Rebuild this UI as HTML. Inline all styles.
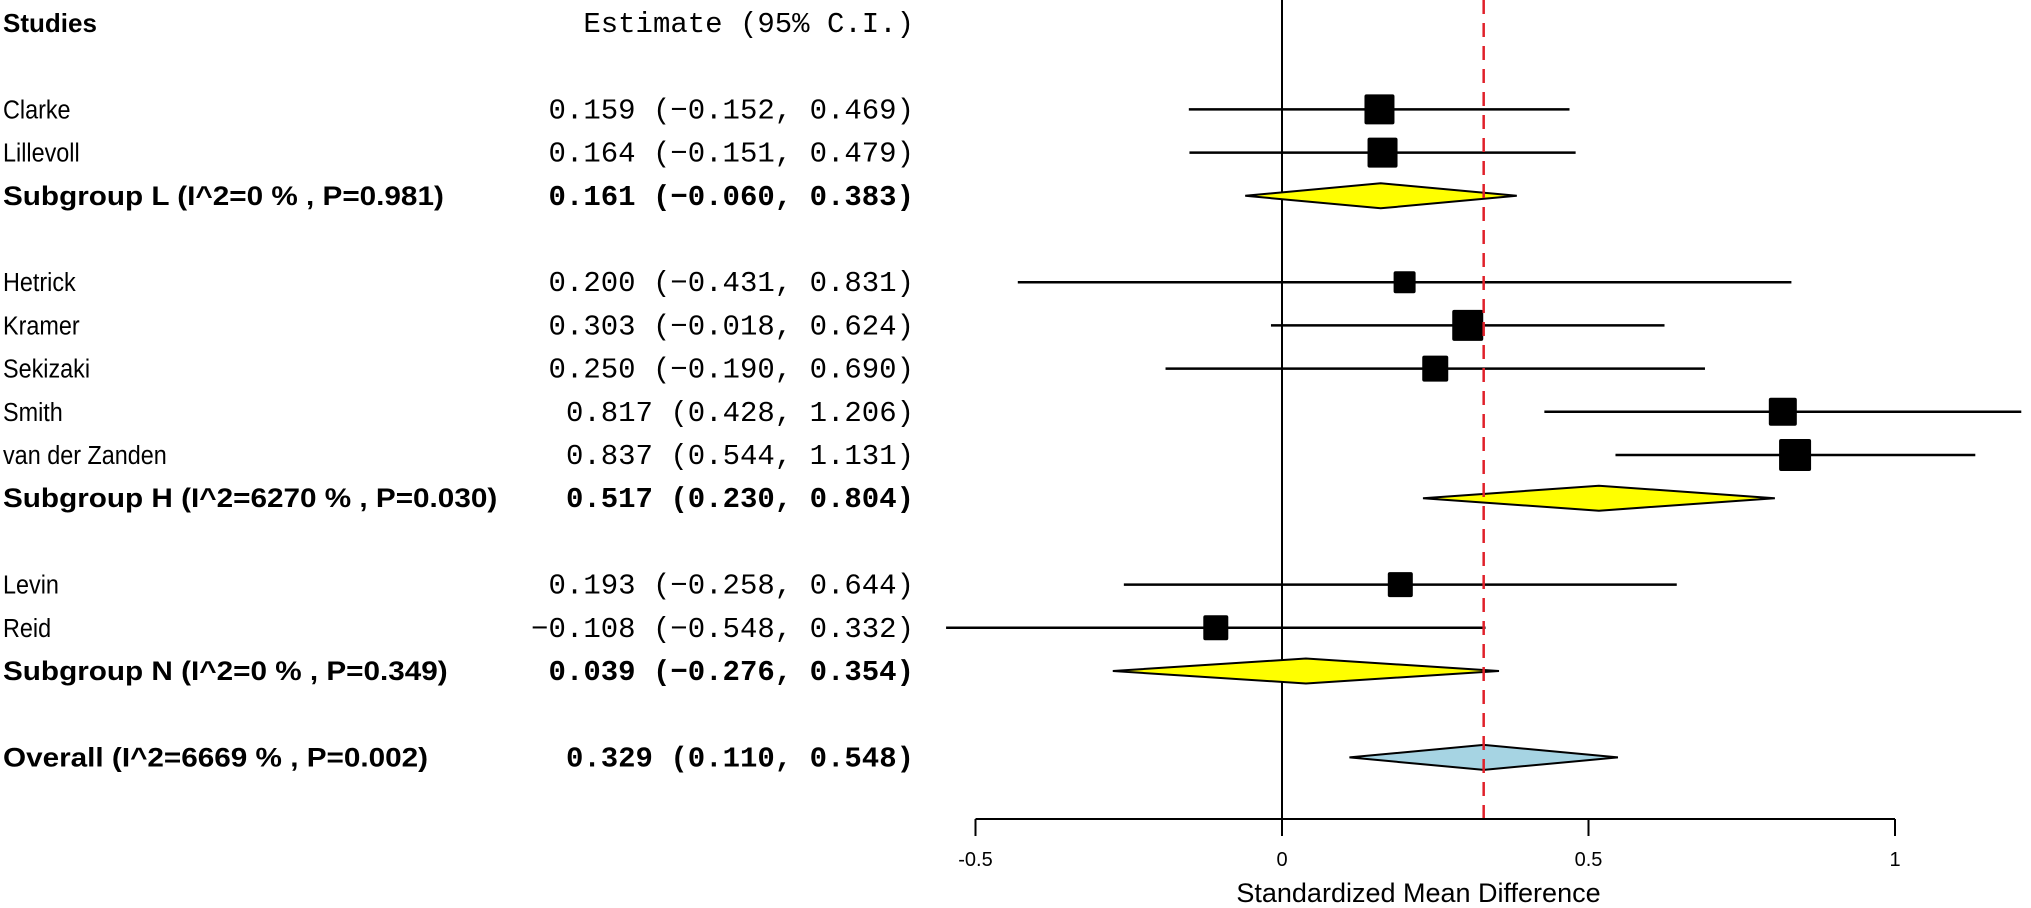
<!DOCTYPE html>
<html><head><meta charset="utf-8"><style>
html,body{margin:0;padding:0;background:#fff;}
svg{display:block;}
.lab{font-family:"Liberation Sans",sans-serif;font-size:27px;fill:#000;}
.est{font-family:"Liberation Mono",monospace;font-size:29px;fill:#000;}
.b{font-weight:bold;}
.tick{font-family:"Liberation Sans",sans-serif;font-size:20px;}
</style></head><body>
<svg id="chart" width="2031" height="908" viewBox="0 0 2031 908" xmlns="http://www.w3.org/2000/svg">
<g id="g"></g>
</svg>
<script>
const labels=["Clarke","Lillevoll","Subgroup L (I^2=0 % , P=0.981)","Hetrick","Kramer","Sekizaki","Smith","van der Zanden","Subgroup H (I^2=6270 % , P=0.030)","Levin","Reid","Subgroup N (I^2=0 % , P=0.349)","Overall (I^2=6669 % , P=0.002)"];
const rowIdx=[2,3,4,6,7,8,9,10,11,13,14,15,17];
const kinds=["s","s","d","s","s","s","s","s","d","s","s","d","o"];
const est=[0.159,0.164,0.161,0.200,0.303,0.250,0.817,0.837,0.517,0.193,-0.108,0.039,0.329];
const lo=[-0.152,-0.151,-0.060,-0.431,-0.018,-0.190,0.428,0.544,0.230,-0.258,-0.548,-0.276,0.110];
const hi=[0.469,0.479,0.383,0.831,0.624,0.690,1.206,1.131,0.804,0.644,0.332,0.354,0.548];
const weights=[30,30,0,22,31,26,28,32,0,25,25,0,0];
const ticks=[-0.5,0,0.5,1];
const tickLabels=["-0.5","0","0.5","1"];
const overall=0.329;

const NS="http://www.w3.org/2000/svg";
const g=document.getElementById('g');
const X=v=>1282+v*613;
const Y=r=>23+r*43.2;
function mk(tag,attrs,parent){const e=document.createElementNS(NS,tag);for(const k in attrs)e.setAttribute(k,attrs[k]);(parent||g).appendChild(e);return e;}
function fmt(v){return (v<0?"\u2212":"")+Math.abs(v).toFixed(3);}
function pad(s,n){while(s.length<n)s=" "+s;return s;}

let t=mk('text',{x:3,y:Y(0)+9,class:'lab b','font-size':26,style:'font-size:26px'});t.textContent="Studies";


t=mk('text',{x:914,y:Y(0)+9,class:'est','text-anchor':'end','xml:space':'preserve'});t.textContent="Estimate (95% C.I.)";



let l=mk('line',{x1:X(0),x2:X(0),y1:0,y2:819,stroke:'#000','stroke-width':2});



for(let i=0;i<labels.length;i++){
  const y=Y(rowIdx[i]);const bold=kinds[i]!=="s";
  const sx=bold?1.1:0.9;
  let a=mk('text',{x:3,y:y+9,class:'lab'+(bold?' b':''),style:bold?'':'font-size:26px',transform:`translate(3,0) scale(${sx},1) translate(-3,0)`});a.textContent=labels[i];
  
  
  const s=fmt(est[i])+" "+pad("("+fmt(lo[i])+",",8)+" "+fmt(hi[i])+")";
  let e=mk('text',{x:914,y:y+9,class:'est'+(bold?' b':''),'text-anchor':'end','xml:space':'preserve'});e.textContent=s;
  
  
  if(kinds[i]==="s"){
    let ln=mk('line',{x1:X(lo[i]),x2:X(hi[i]),y1:y,y2:y,stroke:'#000','stroke-width':2.5});
    
    
    const w=weights[i];
    let r=mk('rect',{x:X(est[i])-w/2,y:y-w/2,width:w,height:w,rx:2,fill:'#000'});
    
    
  }else{
    const h=12.5;
    let p=mk('polygon',{points:`${X(lo[i])},${y} ${X(est[i])},${y-h} ${X(hi[i])},${y} ${X(est[i])},${y+h}`,fill:kinds[i]==="o"?'#a6d4e3':'#ffff00',stroke:'#000','stroke-width':2});
    
    
  }
}
let rd=mk('line',{x1:X(overall),x2:X(overall),y1:0,y2:819,stroke:'#e0202a','stroke-width':2.5,'stroke-dasharray':'14,9'});


let ax=mk('line',{x1:X(ticks[0]),x2:X(ticks[ticks.length-1]),y1:819,y2:819,stroke:'#000','stroke-width':2});


for(let i=0;i<ticks.length;i++){
  let tk=mk('line',{x1:X(ticks[i]),x2:X(ticks[i]),y1:819,y2:836,stroke:'#000','stroke-width':2});
  
  
  let tl=mk('text',{x:X(ticks[i]),y:866,class:'tick','text-anchor':'middle'});tl.textContent=tickLabels[i];
  
  
}
let tt=mk('text',{x:X(0.5)-170,y:902,class:'lab','text-anchor':'middle'});tt.textContent="Standardized Mean Difference";


</script>
</body></html>
